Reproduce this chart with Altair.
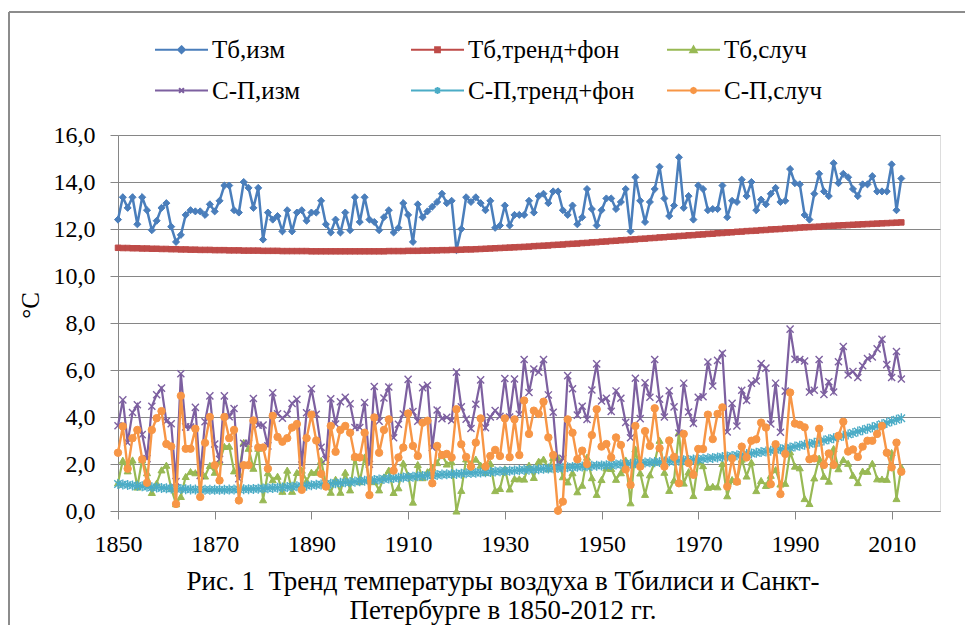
import altair as alt
import pandas as pd

years = list(range(1850, 2013))

tb_meas = [
    12.4, 13.35, 12.9, 13.35, 12.2, 13.35, 12.8, 11.95, 12.35, 12.9,
    13.1, 12.1, 11.45, 11.75, 12.6, 12.8, 12.75, 12.75, 12.6, 13.05,
    12.75, 13.2, 13.85, 13.85, 12.8, 12.7, 14.0, 13.75, 12.9, 13.75,
    11.55, 12.7, 12.4, 12.55, 11.9, 12.8, 11.9, 12.7, 12.8, 12.35,
    12.7, 12.7, 13.2, 12.2, 11.85, 12.4, 11.85, 12.7, 11.95, 13.35,
    12.3, 13.35, 12.4, 12.3, 11.95, 12.5, 12.8, 11.85, 12.05, 13.1,
    12.6, 11.45, 13.05, 12.5, 12.75, 12.95, 13.15, 13.5, 13.1, 13.2,
    11.1, 12.0, 13.35, 13.15, 13.35, 13.1, 12.8, 13.2, 12.05, 12.15,
    13.0, 12.15, 12.6, 12.6, 12.6, 13.2, 12.7, 13.4, 13.5, 13.1,
    13.6, 13.6, 12.8, 12.6, 13.0, 12.2, 12.5, 13.7, 12.85, 12.15,
    12.8, 13.3, 13.3, 12.85, 13.15, 13.7, 11.9, 14.2, 13.2, 12.3,
    13.15, 13.7, 14.65, 13.3, 12.55, 13.0, 15.05, 12.9, 13.4, 12.4,
    13.85, 13.7, 12.8, 12.85, 12.85, 13.85, 12.5, 13.2, 13.15, 14.1,
    13.4, 14.0, 12.8, 13.25, 13.05, 13.5, 13.75, 13.15, 13.2, 14.55,
    13.95, 13.9, 12.6, 12.4, 13.5, 14.35, 13.6, 13.4, 14.8, 13.95,
    14.35, 14.2, 13.7, 13.4, 13.9, 13.9, 14.25, 13.6, 13.6, 13.6,
    14.75, 12.8, 14.15,
]

tb_trend = [
    11.20, 11.19, 11.19, 11.18, 11.18, 11.17, 11.17, 11.16, 11.16, 11.15,
    11.15, 11.14, 11.14, 11.13, 11.13, 11.12, 11.12, 11.11, 11.11, 11.11,
    11.10, 11.10, 11.10, 11.09, 11.09, 11.09, 11.08, 11.08, 11.08, 11.08,
    11.07, 11.07, 11.07, 11.07, 11.06, 11.06, 11.06, 11.06, 11.06, 11.06,
    11.05, 11.05, 11.05, 11.05, 11.05, 11.05, 11.05, 11.05, 11.05, 11.05,
    11.05, 11.05, 11.05, 11.05, 11.05, 11.05, 11.06, 11.06, 11.06, 11.06,
    11.07, 11.07, 11.07, 11.08, 11.08, 11.09, 11.09, 11.10, 11.10, 11.11,
    11.11, 11.12, 11.13, 11.13, 11.14, 11.15, 11.16, 11.17, 11.18, 11.19,
    11.20, 11.21, 11.22, 11.23, 11.24, 11.25, 11.27, 11.28, 11.29, 11.30,
    11.32, 11.33, 11.34, 11.36, 11.37, 11.38, 11.40, 11.41, 11.43, 11.44,
    11.46, 11.47, 11.49, 11.50, 11.52, 11.53, 11.55, 11.56, 11.58, 11.59,
    11.61, 11.62, 11.64, 11.65, 11.67, 11.68, 11.70, 11.71, 11.73, 11.74,
    11.76, 11.77, 11.79, 11.80, 11.82, 11.83, 11.85, 11.86, 11.88, 11.89,
    11.91, 11.92, 11.93, 11.95, 11.96, 11.98, 11.99, 12.00, 12.02, 12.03,
    12.04, 12.06, 12.07, 12.08, 12.09, 12.10, 12.12, 12.13, 12.14, 12.15,
    12.16, 12.17, 12.18, 12.19, 12.20, 12.21, 12.22, 12.23, 12.24, 12.25,
    12.26, 12.27, 12.28,
]

tb_rand = [
    1.20, 2.16, 1.71, 2.17, 1.02, 2.18, 1.63, 0.79, 1.19, 1.75,
    1.95, 0.96, 0.31, 0.62, 1.47, 1.68, 1.63, 1.64, 1.49, 1.94,
    1.65, 2.10, 2.75, 2.76, 1.71, 1.61, 2.92, 2.67, 1.82, 2.67,
    0.48, 1.63, 1.33, 1.48, 0.84, 1.74, 0.84, 1.64, 1.74, 1.29,
    1.65, 1.65, 2.15, 1.15, 0.80, 1.35, 0.80, 1.65, 0.90, 2.30,
    1.25, 2.30, 1.35, 1.25, 0.90, 1.45, 1.74, 0.79, 0.99, 2.04,
    1.53, 0.38, 1.98, 1.42, 1.67, 1.86, 2.06, 2.40, 2.00, 2.09,
    0.00, 0.88, 2.22, 2.02, 2.21, 1.95, 1.64, 2.03, 0.87, 0.96,
    1.80, 0.94, 1.38, 1.37, 1.36, 1.95, 1.43, 2.12, 2.21, 1.80,
    2.28, 2.27, 1.46, 1.24, 1.63, 0.82, 1.10, 2.29, 1.42, 0.71,
    1.34, 1.83, 1.81, 1.35, 1.63, 2.17, 0.35, 2.64, 1.62, 0.71,
    1.54, 2.08, 3.01, 1.65, 0.88, 1.32, 3.35, 1.19, 1.67, 0.66,
    2.09, 1.93, 1.01, 1.05, 1.03, 2.02, 0.65, 1.34, 1.27, 2.21,
    1.49, 2.08, 0.87, 1.30, 1.09, 1.52, 1.76, 1.15, 1.18, 2.52,
    1.91, 1.84, 0.53, 0.32, 1.41, 2.25, 1.48, 1.27, 2.66, 1.80,
    2.19, 2.03, 1.52, 1.21, 1.70, 1.69, 2.03, 1.37, 1.36, 1.35,
    2.49, 0.53, 1.87,
]

sp_meas = [
    3.63, 4.73, 2.91, 4.19, 4.52, 3.25, 2.23, 4.46, 4.95, 5.23,
    3.82, 3.71, 1.25, 5.84, 3.58, 3.57, 4.41, 1.51, 3.80, 4.90,
    2.85, 2.20, 4.90, 4.01, 4.36, 1.37, 2.88, 2.88, 4.79, 3.65,
    3.66, 2.77, 5.03, 4.14, 3.95, 4.12, 4.58, 4.75, 1.96, 4.18,
    5.20, 4.12, 2.71, 2.19, 4.78, 3.70, 4.65, 4.84, 4.56, 3.55,
    3.55, 4.62, 1.99, 5.30, 3.82, 4.81, 5.28, 3.12, 3.69, 4.13,
    5.60, 4.23, 3.82, 5.25, 5.35, 2.70, 4.30, 3.93, 3.99, 3.85,
    5.91, 4.43, 3.91, 3.51, 4.54, 5.58, 3.54, 4.00, 4.28, 4.03,
    5.64, 4.00, 5.62, 4.12, 6.45, 5.04, 6.04, 5.91, 6.45, 4.94,
    4.20, 1.84, 2.24, 5.76, 5.20, 4.08, 4.46, 3.90, 5.15, 6.26,
    4.68, 4.80, 4.24, 5.11, 4.80, 3.77, 3.12, 5.65, 3.93, 5.46,
    4.84, 6.45, 4.76, 4.00, 5.12, 4.43, 3.32, 5.44, 4.21, 3.73,
    4.84, 4.86, 6.34, 5.32, 6.41, 6.71, 3.36, 4.58, 3.62, 5.14,
    4.70, 5.44, 5.53, 6.27, 6.08, 3.70, 5.44, 3.35, 5.10, 7.74,
    6.46, 6.45, 6.38, 5.06, 5.14, 6.45, 4.96, 5.50, 5.06, 6.35,
    7.00, 5.79, 5.94, 5.68, 6.18, 6.49, 6.55, 6.90, 7.31, 6.23,
    5.68, 6.79, 5.62,
]

sp_trend = [
    1.15, 1.13, 1.11, 1.09, 1.07, 1.05, 1.03, 1.01, 1.00, 0.98,
    0.97, 0.96, 0.95, 0.94, 0.93, 0.92, 0.91, 0.91, 0.90, 0.90,
    0.90, 0.90, 0.90, 0.91, 0.91, 0.92, 0.93, 0.93, 0.94, 0.95,
    0.96, 0.97, 0.98, 0.99, 1.00, 1.02, 1.03, 1.05, 1.06, 1.08,
    1.10, 1.12, 1.13, 1.15, 1.16, 1.18, 1.20, 1.22, 1.23, 1.25,
    1.27, 1.29, 1.31, 1.32, 1.34, 1.36, 1.38, 1.40, 1.41, 1.43,
    1.45, 1.46, 1.48, 1.49, 1.51, 1.52, 1.53, 1.55, 1.56, 1.57,
    1.58, 1.59, 1.61, 1.62, 1.63, 1.64, 1.65, 1.66, 1.68, 1.69,
    1.70, 1.71, 1.72, 1.74, 1.75, 1.76, 1.77, 1.78, 1.80, 1.81,
    1.82, 1.83, 1.84, 1.86, 1.87, 1.88, 1.89, 1.90, 1.92, 1.93,
    1.94, 1.95, 1.96, 1.98, 1.99, 2.00, 2.01, 2.03, 2.04, 2.06,
    2.07, 2.08, 2.09, 2.11, 2.12, 2.13, 2.14, 2.16, 2.17, 2.19,
    2.20, 2.22, 2.24, 2.26, 2.28, 2.30, 2.32, 2.34, 2.37, 2.40,
    2.42, 2.45, 2.48, 2.51, 2.53, 2.56, 2.60, 2.63, 2.67, 2.70,
    2.74, 2.78, 2.82, 2.86, 2.90, 2.95, 3.00, 3.05, 3.10, 3.15,
    3.20, 3.26, 3.32, 3.38, 3.44, 3.50, 3.56, 3.62, 3.69, 3.75,
    3.82, 3.88, 3.95,
]

sp_rand = [
    2.48, 3.6, 1.8, 3.1, 3.45, 2.2, 1.2, 3.45, 3.95, 4.25,
    2.85, 2.75, 0.3, 4.9, 2.65, 2.65, 3.5, 0.6, 2.9, 4.0,
    1.95, 1.3, 4.0, 3.1, 3.45, 0.45, 1.95, 1.95, 3.85, 2.7,
    2.7, 1.8, 4.05, 3.15, 2.95, 3.1, 3.55, 3.7, 0.9, 3.1,
    4.1, 3.0, 1.58, 1.04, 3.62, 2.52, 3.45, 3.62, 3.33, 2.3,
    2.28, 3.33, 0.68, 3.98, 2.48, 3.45, 3.9, 1.72, 2.28, 2.7,
    4.15, 2.77, 2.34, 3.76, 3.84, 1.18, 2.77, 2.38, 2.43, 2.28,
    4.33, 2.84, 2.3, 1.89, 2.91, 3.94, 1.89, 2.34, 2.6, 2.34,
    3.94, 2.29, 3.9, 2.38, 4.7, 3.28, 4.27, 4.13, 4.65, 3.13,
    2.38, 0.01, 0.4, 3.9, 3.33, 2.2, 2.57, 2.0, 3.23, 4.33,
    2.74, 2.85, 2.28, 3.13, 2.81, 1.77, 1.11, 3.62, 1.89, 3.4,
    2.77, 4.37, 2.67, 1.89, 3.0, 2.3, 1.18, 3.28, 2.04, 1.54,
    2.64, 2.64, 4.1, 3.06, 4.13, 4.41, 1.04, 2.24, 1.25, 2.74,
    2.28, 2.99, 3.05, 3.76, 3.55, 1.14, 2.84, 0.72, 2.43, 5.04,
    3.72, 3.67, 3.56, 2.2, 2.24, 3.5, 1.96, 2.45, 1.96, 3.2,
    3.8, 2.53, 2.62, 2.3, 2.74, 2.99, 2.99, 3.28, 3.62, 2.48,
    1.86, 2.91, 1.67,
]

series_names = ["Тб,изм", "Тб,тренд+фон", "Тб,случ", "С-П,изм", "С-П,тренд+фон", "С-П,случ"]
series_values = [tb_meas, tb_trend, tb_rand, sp_meas, sp_trend, sp_rand]
series_colors = ["#4A7EBB", "#BE4B48", "#98B954", "#7D60A0", "#4BACC6", "#F79646"]

x_tick_values = [1850, 1870, 1890, 1910, 1930, 1950, 1970, 1990, 2010]
y_tick_values = [0, 2, 4, 6, 8, 10, 12, 14, 16]

caption = ["Рис. 1\u00a0 Тренд температуры воздуха в Тбилиси и Санкт-",
           "Петербурге в 1850-2012 гг."]

X_PATH = "M-1,-1L1,1M-1,1L1,-1"
AST_PATH = "M-1,-1L1,1M-1,1L1,-1M0,-1.35V1.35"
plot_shapes = ["diamond", "square", "triangle-up", X_PATH, AST_PATH, "circle"]
plot_sizes = [50, 30, 50, 50, 55, 55]
plot_widths = [2.5, 3.0, 2.2, 2.2, 2.2, 2.4]
plot_filled = [True, True, True, False, False, True]

legend_paths = [
    "M-1,0H1M0,-0.13L0.13,0L0,0.13L-0.13,0Z",
    "M-1,0H1M-0.09,-0.09H0.09V0.09H-0.09Z",
    "M-1,0H1M0,-0.12L0.12,0.09H-0.12Z",
    "M-1,0H1M-0.09,-0.09L0.09,0.09M-0.09,0.09L0.09,-0.09",
    "M-1,0H1M-0.09,-0.09L0.09,0.09M-0.09,0.09L0.09,-0.09M0,-0.13V0.13",
    "M-1,0H1M0.1,0L0.07,0.07L0,0.1L-0.07,0.07L-0.1,0L-0.07,-0.07L0,-0.1L0.07,-0.07Z",
]

rows = []
for name, vals in zip(series_names, series_values):
    for yr, v in zip(years, vals):
        rows.append({"year": yr, "value": v, "series": name})
df = pd.DataFrame(rows)

FONT = "Liberation Serif"
GRAY = "#868686"

x_enc = alt.X(
    "year:Q",
    scale=alt.Scale(domain=[1850, 2020], nice=False, zero=False),
    axis=alt.Axis(
        values=x_tick_values, format="d", title=None, grid=False,
        tickSize=8, tickColor=GRAY, domainColor=GRAY, domainWidth=1,
        labelFont=FONT, labelFontSize=24, labelColor="black",
        labelPadding=13, labelFlush=False,
    ),
)
y_enc = alt.Y(
    "value:Q",
    scale=alt.Scale(domain=[0, 16], nice=False, zero=True),
    axis=alt.Axis(
        values=y_tick_values,
        labelExpr="replace(format(datum.value, '.1f'), '.', ',')",
        title="°C", titleFont=FONT, titleFontSize=25, titleFontWeight="normal",
        titleColor="black", titleAngle=270, titleX=-88, titleY=170,
        titleAlign="center", titleBaseline="middle",
        grid=True, gridColor=GRAY, gridWidth=1,
        tickSize=8, tickColor=GRAY, domainColor=GRAY, domainWidth=1,
        labelFont=FONT, labelFontSize=24, labelColor="black", labelPadding=15,
    ),
)

layers = []
for i, name in enumerate(series_names):
    c = series_colors[i]
    base = alt.Chart(df).transform_filter(alt.datum.series == name)
    line = base.mark_line(color=c, strokeWidth=plot_widths[i]).encode(x=x_enc, y=y_enc, order="year:Q")
    if plot_filled[i]:
        pts = base.mark_point(shape=plot_shapes[i], size=plot_sizes[i], filled=True,
                              fill=c, stroke=c, strokeWidth=1, opacity=1)
    else:
        pts = base.mark_point(shape=plot_shapes[i], size=plot_sizes[i], filled=False,
                              stroke=c, strokeWidth=1.4, opacity=1)
    pts = pts.encode(x=x_enc, y=y_enc)
    layers += [line, pts]

leg = alt.Legend(
    title=None, orient="none", legendX=36, legendY=-113, columns=3,
    direction="horizontal", gridAlign="all", padding=0,
    symbolSize=2809, symbolStrokeWidth=2, symbolOpacity=1,
    labelFont=FONT, labelFontSize=25, labelColor="black", labelOffset=3,
    labelLimit=400, columnPadding=28, rowPadding=-13,
)
legend_layer = alt.Chart(df).mark_point(opacity=0, filled=True).encode(
    x=x_enc, y=y_enc,
    fill=alt.Fill("series:N", scale=alt.Scale(domain=series_names, range=series_colors), legend=leg),
    stroke=alt.Stroke("series:N", scale=alt.Scale(domain=series_names, range=series_colors), legend=leg),
    shape=alt.Shape("series:N", scale=alt.Scale(domain=series_names, range=legend_paths), legend=leg),
)

frame_df = pd.DataFrame({"k": [0]})
frame_top = alt.Chart(frame_df).mark_rule(color="#8c8c8c", strokeWidth=2).encode(
    x=alt.value(-109), x2=alt.value(850), y=alt.value(-123))
frame_left = alt.Chart(frame_df).mark_rule(color="#8c8c8c", strokeWidth=2).encode(
    x=alt.value(-109), y=alt.value(-123), y2=alt.value(490))

chart = alt.layer(*layers, legend_layer, frame_top, frame_left).properties(
    width=822, height=376,
    autosize=alt.AutoSizeParams(type="none"),
    padding={"left": 110, "top": 127, "right": 25, "bottom": 115},
    title=alt.TitleParams(
        text=caption, orient="bottom", anchor="middle", font=FONT, fontSize=27,
        fontWeight="normal", color="black", lineHeight=29, offset=-57, dx=-26,
    ),
).configure_view(stroke=None).configure(background="white")

chart.save("out.html", embed_options={"renderer": "svg", "actions": False})
